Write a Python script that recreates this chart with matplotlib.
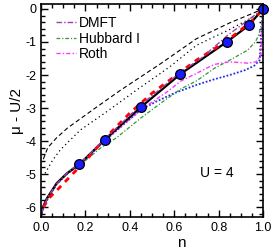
import matplotlib
matplotlib.use("Agg")
import matplotlib.pyplot as plt
from matplotlib.ticker import MultipleLocator

plt.rcParams['font.family'] = ['Liberation Sans', 'DejaVu Sans']
plt.rcParams['axes.unicode_minus'] = False

# exact result (solid line + symbols)
n_exact = [0.0, 0.005, 0.026, 0.07, 0.116, 0.176, 0.288, 0.452, 0.628, 0.838, 0.935, 1.0]
mu_exact = [-6.25, -6.05, -5.74, -5.28, -4.98, -4.68, -3.95, -2.96, -1.97, -0.99, -0.5, 0.0]
n_sym = [0.171, 0.288, 0.452, 0.628, 0.838, 0.935, 1.0]
mu_sym = [-4.70, -3.97, -2.96, -1.97, -0.99, -0.50, 0.0]

# black dashed / dotted
n_dash = [0.01, 0.03, 0.07, 0.12, 0.24, 0.36, 0.54, 0.70, 0.85, 1.0]
mu_dash = [-4.55, -4.2, -3.9, -3.6, -3.02, -2.45, -1.65, -0.9, -0.42, 0.0]
n_dot = [0.018, 0.05, 0.086, 0.176, 0.296, 0.431, 0.58, 0.70, 0.844, 0.986, 1.0]
mu_dot = [-4.98, -4.6, -4.27, -3.67, -3.11, -2.45, -1.75, -1.1, -0.64, -0.13, 0.0]

# red dashed
n_red = [0.01, 0.04, 0.08, 0.13, 0.2, 0.29, 0.4, 0.5, 0.6, 0.7, 0.84, 0.94, 1.0]
mu_red = [-6.0, -5.7, -5.43, -5.08, -4.6, -3.9, -3.15, -2.55, -2.05, -1.55, -0.95, -0.42, 0.0]

# DMFT
n_dmft = [0.0, 0.03, 0.07, 0.12, 0.18, 0.29, 0.45, 0.55, 0.63, 0.72, 0.84, 0.93, 1.0]
mu_dmft = [-6.2, -5.7, -5.3, -4.95, -4.65, -3.92, -2.9, -2.35, -1.9, -1.5, -0.8, -0.35, 0.0]

# Hubbard I
n_hub = [0.0, 0.03, 0.07, 0.12, 0.18, 0.27, 0.34, 0.45, 0.55, 0.63, 0.7, 0.78, 0.85, 0.93, 0.965, 0.98, 0.993, 1.0]
mu_hub = [-6.2, -5.75, -5.32, -4.98, -4.7, -4.2, -3.9, -3.3, -2.8, -2.42, -2.18, -1.8, -1.55, -1.25, -1.0, -0.8, -0.45, 0.0]

# Roth
n_roth = [0.0, 0.03, 0.07, 0.12, 0.18, 0.29, 0.45, 0.57, 0.63, 0.7, 0.78, 0.85, 0.93, 0.97, 0.99, 1.0]
mu_roth = [-6.2, -5.72, -5.3, -4.97, -4.68, -3.97, -3.05, -2.5, -2.18, -1.95, -1.68, -1.6, -1.64, -1.6, -1.4, 0.0]

# blue dotted
n_blue = [0.0, 0.03, 0.07, 0.12, 0.18, 0.29, 0.38, 0.45, 0.52, 0.6, 0.7, 0.78, 0.85, 0.92, 0.96, 0.985, 1.0]
mu_blue = [-6.2, -5.75, -5.3, -4.98, -4.68, -3.97, -3.45, -3.05, -2.8, -2.55, -2.3, -2.13, -2.0, -1.85, -1.72, -1.55, 0.0]

fig = plt.figure(figsize=(2.74, 2.52), dpi=100)
ax = fig.add_axes([0.150, 0.139, 0.810, 0.845])

ax.plot(n_dash, mu_dash, color='black', ls=(0, (4, 2.5)), lw=0.8)
ax.plot(n_dot, mu_dot, color='black', ls=(0, (1, 2.5)), lw=0.9)
ax.plot(n_blue, mu_blue, color='#2233dd', ls=(0, (1, 1)), lw=1.3)
ax.plot(n_hub, mu_hub, color='#339933', ls=(0, (3, 1.5, 1, 1.5)), lw=0.9, label='Hubbard I')
ax.plot(n_roth, mu_roth, color='#ff33ff', ls=(0, (3, 1.5, 1, 1.5)), lw=1.0, label='Roth')
ax.plot(n_exact, mu_exact, color='black', lw=1.6)
ax.plot(n_red, mu_red, color='red', ls=(0, (2, 2)), lw=2.0)
ax.plot(n_dmft, mu_dmft, color='#a040b0', ls=(0, (4, 1.5, 1, 1.5)), lw=1.0, label='DMFT')
ax.plot(n_sym, mu_sym, ls='none', marker='o', ms=7, mfc='#1a1aff', mec='black', mew=0.9, clip_on=False)

ax.set_xlim(0, 1)
ax.set_ylim(-6.3, 0.15)
ax.xaxis.set_major_locator(MultipleLocator(0.2))
ax.xaxis.set_minor_locator(MultipleLocator(0.05))
ax.yaxis.set_major_locator(MultipleLocator(1))
ax.yaxis.set_minor_locator(MultipleLocator(0.2))
ax.xaxis.set_major_formatter(plt.FuncFormatter(lambda v, p: f'{v:.1f}'))
ax.yaxis.set_major_formatter(plt.FuncFormatter(lambda v, p: f'{v:.0f}'))
ax.tick_params(which='both', direction='in', top=True, right=True, labelsize=9, width=1.0)
ax.tick_params(which='major', length=5)
ax.tick_params(which='minor', length=3)
for s in ax.spines.values():
    s.set_linewidth(1.2)

ax.set_xlabel('n', fontsize=11)
ax.set_ylabel('μ - U/2', fontsize=11, labelpad=1)
ax.xaxis.set_label_coords(0.63, -0.09)
ax.text(0.79, -4.97, 'U = 4', fontsize=10, ha='center', va='center')

handles, labels = ax.get_legend_handles_labels()
order = [labels.index('DMFT'), labels.index('Hubbard I'), labels.index('Roth')]
ax.legend([handles[i] for i in order], [labels[i] for i in order],
          loc='upper left', bbox_to_anchor=(0.018, 0.995), frameon=False,
          fontsize=10, handlelength=1.45, handletextpad=0.2, labelspacing=0.1,
          borderpad=0.3)

fig.savefig('out.png', dpi=100)
